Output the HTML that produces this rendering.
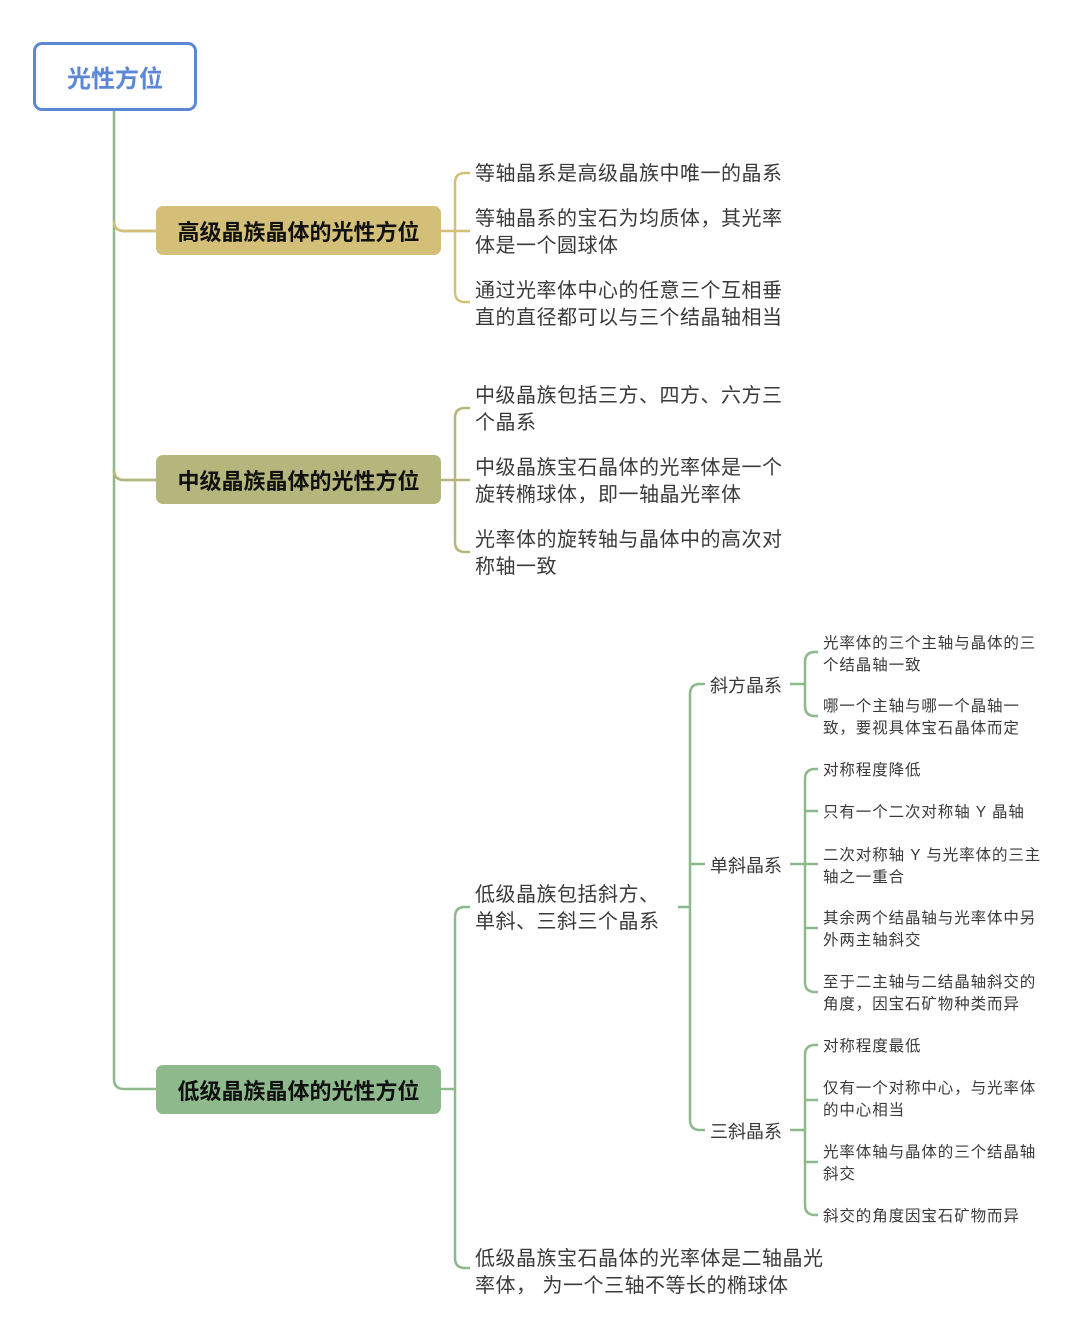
<!DOCTYPE html>
<html><head><meta charset="utf-8"><style>
body{margin:0;background:#fff;width:1080px;height:1342px;position:relative;overflow:hidden;font-family:"Liberation Sans","Noto Sans CJK SC",sans-serif;}
.t{position:absolute;white-space:nowrap;color:#3a3a3a;}
.l2{font-size:20px;line-height:27px;letter-spacing:0.5px;margin-top:2px;}
.l3{font-size:15.5px;line-height:21.5px;letter-spacing:0.9px;margin-top:2px;}
.box{position:absolute;border-radius:7px;font-weight:bold;font-size:22px;color:#111;display:flex;align-items:center;justify-content:center;}
svg{position:absolute;left:0;top:0;}
</style></head><body>
<svg width="1080" height="1342" fill="none" stroke-width="2.5">
<path d="M114 111 V221 Q114 231 124 231 H157" stroke="#8db98d"/>
<path d="M114 221 V470 Q114 480 124 480 H157" stroke="#8db98d"/>
<path d="M114 470 V1079 Q114 1089 124 1089 H157" stroke="#8db98d"/>
<path d="M114 221 Q114 231 124 231 H157" stroke="#d4bf78"/>
<path d="M114 470 Q114 480 124 480 H157" stroke="#b5b67c"/>
<g stroke="#d4bf78"><path d="M441 231 H470"/><path d="M470 173 H465 Q455 173 455 183 V292 Q455 302 465 302 H470"/></g>
<g stroke="#b5b67c"><path d="M441 480 H470"/><path d="M470 408 H465 Q455 408 455 418 V542 Q455 552 465 552 H470"/></g>
<g stroke="#8db98d"><path d="M441 1089 H455"/><path d="M470 907 H465 Q455 907 455 917 V1258 Q455 1268 465 1268 H470"/>
<path d="M678 907 H690"/><path d="M705 684 H700 Q690 684 690 694 V1120 Q690 1130 700 1130 H705"/><path d="M690 864 H705"/>
<path d="M790 684 H805"/><path d="M818 652 H815 Q805 652 805 662 V706 Q805 716 815 716 H818"/>
<path d="M790 864 H818"/><path d="M818 769 H815 Q805 769 805 779 V982 Q805 992 815 992 H818"/><path d="M805 811 H818"/><path d="M805 928 H818"/>
<path d="M790 1130 H805"/><path d="M818 1045 H815 Q805 1045 805 1055 V1205 Q805 1215 815 1215 H818"/><path d="M805 1100 H818"/><path d="M805 1162 H818"/>
</g>
</svg>
<div style="position:absolute;left:33px;top:42px;width:158px;height:63px;border:3px solid #5b87d6;border-radius:9px;display:flex;align-items:center;justify-content:center;color:#5b87d6;font-size:24px;font-weight:bold;">光性方位</div>
<div class="box" style="left:156px;top:206px;width:285px;height:49px;background:#d4bf78;">高级晶族晶体的光性方位</div>
<div class="box" style="left:156px;top:455px;width:285px;height:49px;background:#b5b67c;">中级晶族晶体的光性方位</div>
<div class="box" style="left:156px;top:1065px;width:285px;height:49px;background:#8db98d;">低级晶族晶体的光性方位</div>

<div class="t l2" style="left:475px;top:159px;">等轴晶系是高级晶族中唯一的晶系</div>
<div class="t l2" style="left:475px;top:204px;">等轴晶系的宝石为均质体，其光率<br>体是一个圆球体</div>
<div class="t l2" style="left:475px;top:276px;">通过光率体中心的任意三个互相垂<br>直的直径都可以与三个结晶轴相当</div>
<div class="t l2" style="left:475px;top:381px;">中级晶族包括三方、四方、六方三<br>个晶系</div>
<div class="t l2" style="left:475px;top:453px;">中级晶族宝石晶体的光率体是一个<br>旋转椭球体，即一轴晶光率体</div>
<div class="t l2" style="left:475px;top:525px;">光率体的旋转轴与晶体中的高次对<br>称轴一致</div>
<div class="t l2" style="left:475px;top:880px;">低级晶族包括斜方、<br>单斜、三斜三个晶系</div>
<div class="t l2" style="left:475px;top:1244px;">低级晶族宝石晶体的光率体是二轴晶光<br>率体，  为一个三轴不等长的椭球体</div>

<div class="t" style="left:710px;top:672px;font-size:18px;">斜方晶系</div>
<div class="t" style="left:710px;top:852px;font-size:18px;">单斜晶系</div>
<div class="t" style="left:710px;top:1118px;font-size:18px;">三斜晶系</div>

<div class="t l3" style="left:823px;top:631px;">光率体的三个主轴与晶体的三<br>个结晶轴一致</div>
<div class="t l3" style="left:823px;top:694px;">哪一个主轴与哪一个晶轴一<br>致，要视具体宝石晶体而定</div>
<div class="t l3" style="left:823px;top:758px;">对称程度降低</div>
<div class="t l3" style="left:823px;top:800px;">只有一个二次对称轴 Y 晶轴</div>
<div class="t l3" style="left:823px;top:843px;">二次对称轴 Y 与光率体的三主<br>轴之一重合</div>
<div class="t l3" style="left:823px;top:906px;">其余两个结晶轴与光率体中另<br>外两主轴斜交</div>
<div class="t l3" style="left:823px;top:970px;">至于二主轴与二结晶轴斜交的<br>角度，因宝石矿物种类而异</div>
<div class="t l3" style="left:823px;top:1034px;">对称程度最低</div>
<div class="t l3" style="left:823px;top:1076px;">仅有一个对称中心，与光率体<br>的中心相当</div>
<div class="t l3" style="left:823px;top:1140px;">光率体轴与晶体的三个结晶轴<br>斜交</div>
<div class="t l3" style="left:823px;top:1204px;">斜交的角度因宝石矿物而异</div>
</body></html>
